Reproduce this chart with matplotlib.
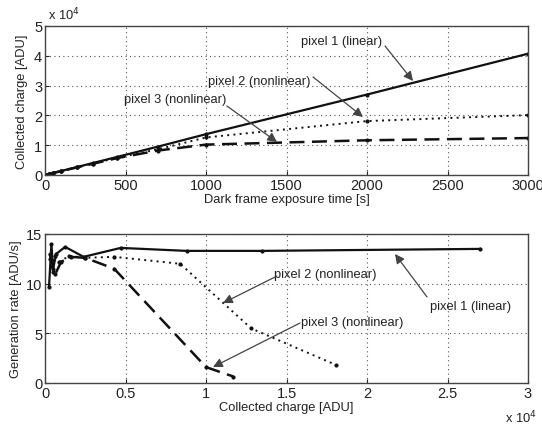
import matplotlib
matplotlib.use("Agg")
import matplotlib.pyplot as plt
from matplotlib.ticker import FuncFormatter

plt.rcParams['font.family'] = ['Liberation Sans', 'DejaVu Sans']

# ---- top panel data: exposure time [s] vs collected charge [ADU]
time_s = [0, 25, 50, 100, 200, 300, 450, 700, 1000, 2000, 3000]
charge_p1 = [0, 340, 680, 1350, 2700, 4050, 6100, 9500, 13700, 27000, 40700]
charge_p2 = [0, 330, 660, 1320, 2600, 3850, 5800, 8600, 12600, 18100, 20100]
charge_p3 = [0, 330, 650, 1300, 2550, 3800, 5700, 8200, 10200, 11650, 12400]

# ---- bottom panel data: collected charge [ADU] vs generation rate [ADU/s]
q_p1 = [250, 400, 500, 700, 1250, 2400, 4700, 8800, 13500, 27000]
r_p1 = [9.7, 14.0, 11.5, 13.0, 13.7, 12.7, 13.6, 13.3, 13.3, 13.5]
q_p2 = [300, 450, 600, 900, 1500, 2500, 4300, 8400, 12800, 18100]
r_p2 = [12.5, 11.8, 12.8, 12.2, 12.8, 12.6, 12.7, 12.0, 5.5, 1.8]
q_p3 = [300, 500, 650, 1000, 1600, 2500, 4300, 10000, 11700]
r_p3 = [13.0, 11.2, 11.0, 12.2, 12.7, 12.6, 11.5, 1.6, 0.65]

xticks_top = [0, 500, 1000, 1500, 2000, 2500, 3000]
yticks_top = [0, 10000, 20000, 30000, 40000, 50000]
xticks_bot = [0, 5000, 10000, 15000, 20000, 25000, 30000]
yticks_bot = [0, 5, 10, 15]

W, H = 542, 427
fig = plt.figure(figsize=(W / 100, H / 100), dpi=100)
ax1 = fig.add_axes([45 / W, 1 - 176 / H, (528 - 45) / W, (176 - 27) / H])
ax2 = fig.add_axes([45 / W, 1 - 384 / H, (528 - 45) / W, (384 - 235) / H])

tick_fs = 10.5
lab_fs = 9.3
ann_fs = 9.3
col = '#222222'

sci = FuncFormatter(lambda v, p: ('%g' % (v / 1e4)))

for ax in (ax1, ax2):
    ax.grid(True, linestyle=(0, (1, 3)), color='#555555', linewidth=0.8)
    ax.tick_params(direction='in', length=3, labelsize=tick_fs, colors=col, pad=2,
                   top=False, right=False)
    for s in ax.spines.values():
        s.set_color('#444444')
        s.set_linewidth(1.0)

# top
ax1.plot(time_s, charge_p1, '-', color='#111111', lw=1.6, marker='.', ms=4)
ax1.plot(time_s, charge_p2, linestyle=(0, (1, 2.2)), color='#111111', lw=1.4, marker='.', ms=4)
ax1.plot(time_s, charge_p3, linestyle=(0, (6, 3)), color='#111111', lw=1.8, marker='.', ms=4)
ax1.set_xlim(0, 3000)
ax1.set_ylim(0, 50000)
ax1.set_xticks(xticks_top)
ax1.set_yticks(yticks_top)
ax1.yaxis.set_major_formatter(sci)
ax1.set_xlabel('Dark frame exposure time [s]', fontsize=lab_fs, color=col, labelpad=1)
ax1.set_ylabel('Collected charge [ADU]', fontsize=lab_fs, color=col, labelpad=4)
fig.text(48 / W, 1 - 15 / H, r'x 10$^4$', fontsize=lab_fs, color=col, va='center', ha='left')

arr = dict(arrowstyle='-|>', color='#444444', lw=0.9, mutation_scale=14,
           shrinkA=0, shrinkB=0)


def label_arrow(ax, text, text_xy, start_xy, head_xy, ha='center'):
    ax.text(text_xy[0], text_xy[1], text, fontsize=ann_fs, color=col, ha=ha, va='center')
    ax.annotate('', xy=head_xy, xytext=start_xy, arrowprops=arr)


label_arrow(ax1, 'pixel 1 (linear)', (1845, 44970), (2112, 43290), (2286, 31540))
label_arrow(ax1, 'pixel 2 (nonlinear)', (1329, 31540), (1665, 32890), (1975, 19460))
label_arrow(ax1, 'pixel 3 (nonlinear)', (807, 25500), (1130, 23150), (1441, 11070))

# bottom
ax2.plot(q_p1, r_p1, '-', color='#111111', lw=1.6, marker='.', ms=4)
ax2.plot(q_p2, r_p2, linestyle=(0, (1, 2.2)), color='#111111', lw=1.4, marker='.', ms=4)
ax2.plot(q_p3, r_p3, linestyle=(0, (6, 3)), color='#111111', lw=1.8, marker='.', ms=4)
ax2.set_xlim(0, 30000)
ax2.set_ylim(0, 15)
ax2.set_xticks(xticks_bot)
ax2.set_yticks(yticks_bot)
ax2.xaxis.set_major_formatter(sci)
ax2.set_xlabel('Collected charge [ADU]', fontsize=lab_fs, color=col, labelpad=1)
ax2.set_ylabel('Generation rate [ADU/s]', fontsize=lab_fs, color=col, labelpad=3)
fig.text(521 / W, 1 - 418 / H, r'x 10$^4$', fontsize=lab_fs, color=col, va='center', ha='center')

label_arrow(ax2, 'pixel 2 (nonlinear)', (14200, 10.97), (14410, 10.77), (11056, 8.05), ha='left')
label_arrow(ax2, 'pixel 3 (nonlinear)', (15900, 6.14), (15840, 6.04), (10435, 1.61), ha='left')
label_arrow(ax2, 'pixel 1 (linear)', (23913, 7.75), (23727, 8.66), (21739, 12.99), ha='left')

fig.savefig('out.png', dpi=100)
